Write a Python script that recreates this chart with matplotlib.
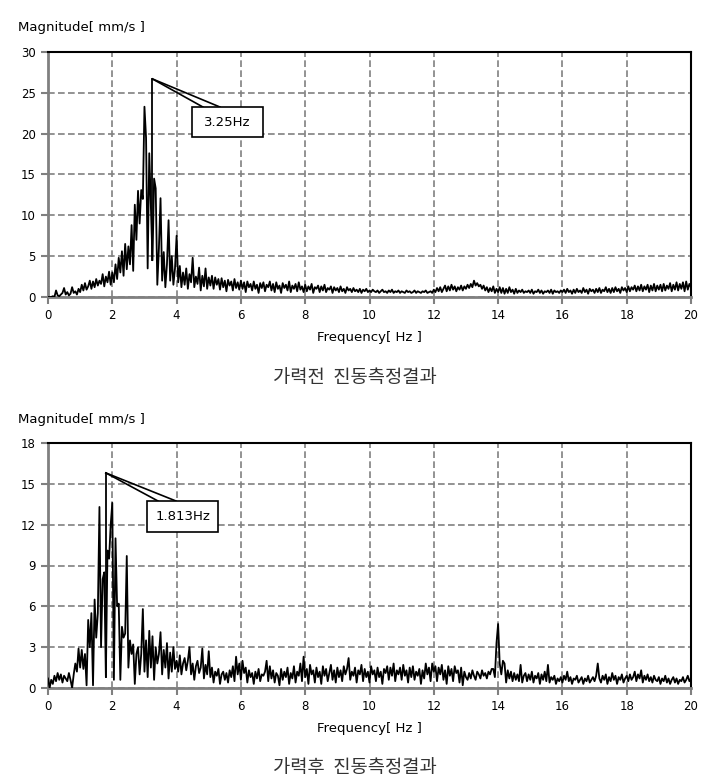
import numpy as np
import matplotlib.pyplot as plt
from matplotlib.patches import Rectangle

# frequency grid, 0.05 Hz steps
freq = np.round(np.arange(0, 20.0001, 0.05), 2)

# magnitude before loading [mm/s], one row per 1 Hz
mag_before = [
    0.0, 0.0, 0.0, 0.1, 0.0, 0.8, 0.2, 0.1, 0.3, 0.5, 1.1, 0.3, 0.6, 0.2, 0.4, 1.2, 0.5, 0.7, 0.3, 1.0,
    0.6, 1.5, 0.8, 1.7, 0.9, 1.3, 2.0, 1.0, 1.9, 1.2, 2.2, 1.4, 2.0, 1.6, 2.8, 1.3, 2.5, 1.8, 3.1, 1.5,
    3.0, 1.8, 4.0, 2.2, 4.8, 3.0, 5.6, 2.6, 6.5, 3.4, 6.2, 4.0, 8.8, 3.2, 11.3, 7.0, 13.0, 9.0, 13.1, 12.0,
    23.3, 19.5, 3.5, 17.6, 11.0, 4.5, 14.5, 13.3, 1.5, 6.0, 12.1, 2.0, 5.5, 1.2, 4.0, 9.4, 2.0, 5.0, 1.5, 3.5,
    7.5, 1.8, 3.8, 1.2, 3.0, 1.5, 3.5, 1.0, 2.8, 1.8, 4.8, 1.2, 2.5, 1.6, 3.6, 0.8, 2.6, 1.3, 3.5, 1.0,
    2.4, 1.4, 2.6, 1.0, 2.4, 1.5, 2.2, 0.9, 2.3, 1.2, 2.0, 0.7, 2.1, 1.4, 1.9, 0.8, 2.2, 1.1, 1.8, 0.9,
    2.0, 1.0, 1.8, 0.6, 1.9, 1.2, 1.6, 0.8, 1.9, 1.0, 1.5, 0.5, 1.7, 1.1, 1.8, 0.7, 1.5, 1.2, 1.9, 0.8,
    1.6, 0.6, 1.8, 1.0, 1.4, 0.5, 1.7, 1.1, 1.5, 0.8, 1.9, 0.6, 1.4, 1.0, 1.6, 0.7, 1.8, 0.9, 1.3, 0.6,
    1.5, 0.7, 1.3, 0.9, 1.6, 0.5, 1.2, 1.0, 1.4, 0.6, 1.3, 0.8, 1.5, 0.6, 1.1, 0.9, 1.3, 0.5, 1.2, 0.8,
    1.1, 0.6, 1.3, 0.7, 1.0, 0.5, 1.2, 0.8, 1.0, 0.6, 1.1, 0.7, 0.9, 0.6, 1.0, 0.5, 0.9, 0.7, 1.0, 0.6,
    0.8, 0.6, 0.9, 0.7, 0.6, 0.8, 0.5, 0.7, 0.9, 0.6, 0.7, 0.5, 0.8, 0.6, 0.9, 0.5, 0.7, 0.6, 0.8, 0.5,
    0.7, 0.6, 0.5, 0.8, 0.6, 0.7, 0.5, 0.6, 0.8, 0.5, 0.7, 0.6, 0.5, 0.7, 0.6, 0.8, 0.5, 0.6, 0.7, 0.5,
    0.9, 0.6, 1.1, 0.7, 1.2, 0.6, 1.0, 1.4, 0.7, 1.3, 0.8, 1.5, 0.9, 1.3, 0.7, 1.2, 0.9, 1.4, 0.8, 1.3,
    1.0, 1.5, 1.1, 1.6, 1.2, 2.0, 1.4, 1.7, 1.3, 1.5, 1.0, 1.4, 0.8, 1.2, 0.6, 1.1, 0.7, 1.3, 0.5, 1.0,
    0.6, 1.2, 0.5, 1.1, 0.4, 1.0, 0.5, 1.2, 0.6, 0.9, 0.4, 1.0, 0.5, 0.8, 0.6, 0.9, 0.5, 0.7, 0.6, 0.8,
    0.5, 0.9, 0.4, 0.7, 0.6, 0.9, 0.5, 0.8, 0.4, 0.7, 0.6, 0.8, 0.5, 0.9, 0.4, 0.8, 0.6, 0.7, 0.5, 0.8,
    0.6, 0.9, 0.5, 1.0, 0.6, 0.8, 0.4, 0.9, 0.5, 1.0, 0.6, 0.8, 0.5, 1.1, 0.6, 0.9, 0.4, 1.0, 0.7, 0.9,
    0.5, 1.0, 0.6, 1.1, 0.5, 0.9, 0.7, 1.2, 0.6, 1.0, 0.5, 1.1, 0.6, 1.2, 0.7, 1.0, 0.5, 1.2, 0.8, 1.1,
    0.6, 1.3, 0.7, 1.2, 0.9, 1.4, 0.7, 1.3, 0.8, 1.5, 0.7, 1.3, 0.9, 1.5, 0.6, 1.4, 0.8, 1.6, 0.7, 1.4,
    0.9, 1.5, 0.7, 1.6, 0.8, 1.4, 1.0, 1.7, 0.7, 1.5, 0.9, 1.8, 0.8, 1.6, 1.0, 1.8, 0.7, 1.9, 0.9, 1.6,
    1.2,
]

# magnitude after loading [mm/s]
mag_after = [
    0.7, 0.0, 0.6, 0.3, 0.9, 0.5, 1.1, 0.6, 1.0, 0.4, 0.9, 0.7, 0.5, 1.1, 0.6, 0.0, 1.0, 1.8, 1.2, 2.9,
    1.5, 2.8, 1.4, 2.5, 0.2, 5.0, 3.0, 5.5, 0.2, 6.5, 3.7, 5.5, 13.3, 3.0, 8.0, 8.5, 0.8, 10.1, 9.5, 12.0,
    13.6, 0.6, 11.0, 6.0, 6.2, 0.6, 4.5, 3.7, 4.0, 9.7, 1.5, 3.5, 2.5, 3.2, 0.3, 2.5, 3.0, 1.0, 2.5, 5.8,
    1.2, 3.5, 0.8, 4.2, 1.5, 3.8, 0.6, 3.0, 1.8, 2.5, 4.1, 1.0, 2.8, 1.5, 3.3, 0.7, 2.6, 1.2, 3.0, 1.4,
    2.0, 1.2, 2.4, 1.0, 1.8, 2.2, 1.3, 2.0, 3.0, 1.0, 1.8, 0.6, 1.6, 2.0, 1.1, 1.5, 2.9, 0.7, 1.7, 1.0,
    2.7, 0.8, 1.5, 0.4, 1.2, 0.9, 1.4, 0.3, 1.0, 1.2, 0.6, 1.1, 0.4, 1.3, 0.8, 1.6, 0.5, 2.3, 1.0, 1.8,
    0.6, 2.0, 1.1, 1.5, 0.4, 1.3, 0.8, 1.1, 0.3, 1.2, 0.7, 1.4, 0.5, 1.0, 0.9, 1.2, 2.0, 0.5, 1.6, 0.7,
    1.3, 0.4, 1.1, 0.9, 0.2, 1.4, 0.6, 1.2, 0.8, 1.5, 0.3, 1.1, 0.7, 1.6, 0.4, 1.2, 0.9, 1.8, 0.5, 2.3,
    0.8, 1.4, 0.3, 1.7, 1.0, 1.3, 0.4, 1.5, 0.8, 1.2, 0.3, 1.6, 0.9, 1.4, 0.5, 1.1, 1.7, 0.6, 1.3, 0.4,
    1.5, 0.8, 1.3, 0.5, 1.6, 1.0, 1.4, 2.2, 0.6, 1.2, 0.9, 1.5, 0.4, 1.3, 1.0, 1.7, 0.5, 1.4, 0.8, 1.2,
    0.4, 1.6, 1.0, 1.3, 0.5, 1.5, 0.8, 1.2, 0.3, 1.4, 1.1, 1.6, 0.6, 1.5, 0.9, 1.8, 0.5, 1.3, 1.0, 1.5,
    0.6, 1.7, 0.9, 1.3, 0.4, 1.5, 0.8, 1.6, 0.6, 1.2, 0.9, 1.4, 0.3, 1.3, 0.7, 1.8, 1.0, 1.5, 0.5, 1.8,
    1.2, 1.6, 0.5, 1.5, 1.0, 1.7, 0.6, 1.3, 0.3, 1.6, 0.9, 1.4, 0.5, 1.6, 1.1, 1.3, 0.4, 1.5, 0.2, 1.2,
    0.8, 0.6, 1.1, 0.7, 1.3, 0.9, 0.6, 1.2, 1.0, 0.7, 1.3, 0.9, 1.1, 0.7, 1.2, 1.0, 1.4, 1.4, 0.8, 3.3,
    4.7, 1.8, 1.0, 2.0, 1.8, 0.4, 1.3, 0.7, 1.2, 0.5, 1.1, 0.6, 1.0, 0.5, 1.7, 0.4, 0.9, 1.1, 0.5, 1.0,
    0.6, 1.2, 0.4, 0.9, 0.7, 1.1, 0.3, 1.0, 0.6, 1.2, 0.5, 1.7, 0.4, 0.8, 0.6, 0.9, 0.3, 0.7, 0.5, 0.8,
    0.4, 0.9, 0.6, 1.2, 0.5, 0.8, 0.3, 0.7, 0.6, 0.9, 0.4, 0.6, 0.8, 0.3, 0.7, 0.5, 0.9, 0.4, 0.6, 0.8,
    0.5, 0.9, 1.8, 0.7, 0.4, 0.9, 0.6, 1.0, 0.3, 0.8, 0.5, 1.1, 0.6, 0.9, 0.3, 0.8, 0.6, 1.0, 0.4, 0.7,
    0.9, 0.5, 1.0, 0.6, 0.8, 1.2, 0.5, 1.0, 0.7, 1.3, 0.4, 0.9, 0.6, 1.0, 0.5, 0.8, 0.4, 0.9, 0.6, 0.5,
    0.8, 0.3, 0.7, 0.5, 0.9, 0.4, 0.7, 0.3, 0.6, 0.8, 0.4, 0.7, 0.3, 0.6, 0.5, 0.8, 0.4, 0.6, 0.9, 0.5,
    0.7,
]

x_ticks = [0, 2, 4, 6, 8, 10, 12, 14, 16, 18, 20]
y_ticks_before = [0, 5, 10, 15, 20, 25, 30]
y_ticks_after = [0, 3, 6, 9, 12, 15, 18]
peak_before = (3.25, 26.7)
peak_after = (1.80, 15.8)

GRAY = '#808080'
W, H = 719, 779
fig = plt.figure(figsize=(W / 100, H / 100), dpi=100)


def px(x0, y0, x1, y1):
    return [x0 / W, 1 - y1 / H, (x1 - x0) / W, (y1 - y0) / H]


def panel(rect, mag, yticks, peak, box, wedge, label, caption, ylab_y, cap_y):
    ax = fig.add_axes(rect)
    ax.plot(freq, mag, color='black', lw=1.3, zorder=3)
    ax.set_xlim(0, 20)
    ax.set_ylim(yticks[0], yticks[-1])
    ax.set_xticks(x_ticks)
    ax.set_yticks(yticks)
    ax.grid(True, color=GRAY, ls=(0, (4, 2)), lw=1.2)
    ax.tick_params(direction='out', length=5, width=1.5, color=GRAY,
                   labelsize=8.5, pad=4)
    for s in ['left', 'bottom']:
        ax.spines[s].set_color(GRAY)
        ax.spines[s].set_linewidth(2)
    for s in ['top', 'right']:
        ax.spines[s].set_color('black')
        ax.spines[s].set_linewidth(1.5)
    ax.set_xlabel('Frequency[ Hz ]', fontsize=9.5, labelpad=6)

    # callout: vertical leader + wedge to the box
    px_, py_ = peak
    i = int(round(px_ / 0.05))
    ax.plot([px_, px_], [py_, mag[i]], color='black', lw=1.3, zorder=4)
    for wx in wedge:
        ax.plot([px_, wx], [py_, box[3]], color='black', lw=1.2, zorder=4)
    ax.add_patch(Rectangle((box[0], box[2]), box[1] - box[0], box[3] - box[2],
                           facecolor='white', edgecolor='black', lw=1.2, zorder=5))
    ax.text((box[0] + box[1]) / 2, (box[2] + box[3]) / 2, label,
            ha='center', va='center', fontsize=9.5, zorder=6)

    fig.text(18 / W, 1 - ylab_y / H, 'Magnitude[ mm/s ]', fontsize=9.5,
             ha='left', va='center')
    fig.text(355 / W, 1 - cap_y / H, caption, fontsize=13.5, color='#333333',
             ha='center', va='center', family=['Noto Sans CJK KR', 'DejaVu Sans'])
    return ax


panel(px(48, 52, 691, 297), mag_before, y_ticks_before, peak_before,
      (4.48, 6.69, 19.58, 23.26), (4.82, 5.35), '3.25Hz',
      '가력전  진동측정결과', 27, 377)
panel(px(48, 443, 691, 688), mag_after, y_ticks_after, peak_after,
      (3.08, 5.29, 11.46, 13.74), (3.42, 3.98), '1.813Hz',
      '가력후  진동측정결과', 419, 767)

fig.savefig('out.png', dpi=100)
